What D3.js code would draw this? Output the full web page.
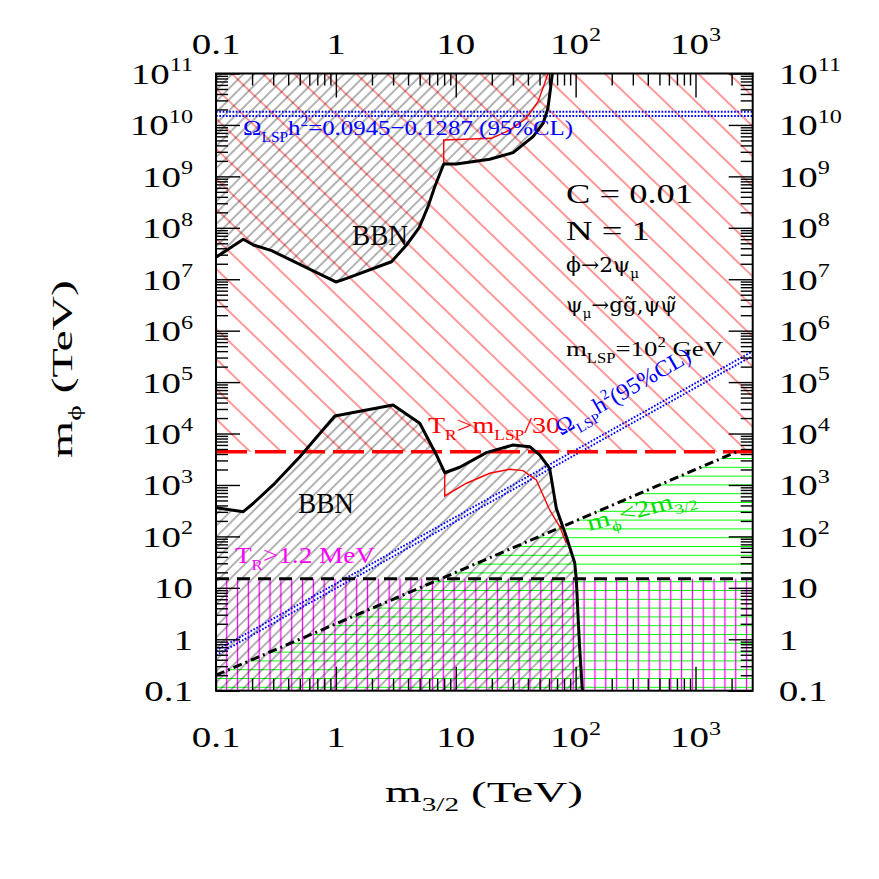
<!DOCTYPE html>
<html>
<head>
<meta charset="utf-8">
<style>
  body { margin: 0; background: #fff; }
  text { font-family: "Liberation Serif", serif; white-space: pre; }
  text.dv { font-family: "DejaVu Serif", serif; }
</style>
</head>
<body>
<div id="chart"></div>
<script src="https://cdn.jsdelivr.net/npm/d3@7"></script>
<script>

  // axis ranges and ticks (TeV)
  var xDomain = [0.1, 3000];
  var yDomain = [0.1, 1e11];
  var xMajor = [0.1, 1, 10, 100, 1000];
  var xTickLabels = ["0.1", "1", "10", "10^2", "10^3"];
  var yMajor = [0.1, 1, 10, 1e2, 1e3, 1e4, 1e5, 1e6, 1e7, 1e8, 1e9, 1e10, 1e11];
  var yTickLabels = ["0.1", "1", "10", "10^2", "10^3", "10^4", "10^5", "10^6", "10^7", "10^8", "10^9", "10^10", "10^11"];

  // upper BBN boundary (m3/2, mphi)
  var bbnUpX = [0.1, 0.169, 0.205, 0.291, 1.0, 1.23, 2.91, 3.88, 4.94, 5.87, 6.68, 7.94, 10.1, 19.2, 30.1, 44.1, 53.5, 58.7, 61.5, 64];
  var bbnUpY = [2.67e7, 5.98e7, 4.63e7, 3.59e7, 8.85e6, 1.04e7, 2.19e7, 4.63e7, 1.0e8, 2.58e8, 6.3e8, 1.74e9, 1.74e9, 2.15e9, 2.89e9, 5.92e9, 1.07e10, 2.09e10, 4.79e10, 1e11];
  // thin red line, upper part
  var redUpX = [7.94, 7.94, 19.9, 28.2, 38.8, 48.5, 55.2, 58.7];
  var redUpY = [1.74e9, 5.1e9, 5.5e9, 7.94e9, 1.35e10, 2.82e10, 6.46e10, 1e11];

  // lower BBN boundary
  var bbnLowX = [0.1, 0.169, 0.205, 0.3, 0.501, 0.98, 3.0, 5.01, 6.9, 8.09, 10.8, 18.0, 30.0, 41.4, 50.1, 60.7, 69.0, 83.7, 98.2, 101.4, 104.5, 107.9, 113.8];
  var bbnLowY = [361, 302, 441, 1000, 3550, 2.19e4, 3.59e4, 1.58e4, 3830, 1730, 2210, 4250, 5980, 5550, 3830, 2110, 352, 98.6, 30.8, 14.2, 3.2, 0.72, 0.1];
  // thin red line, lower part
  var redLowX = [8.09, 8.09, 12.3, 19.2, 28.2, 36.4, 47.0, 60.7, 73.6, 83.7];
  var redLowY = [1730, 611, 1080, 1690, 2020, 1900, 1250, 327, 155, 73.5];

  // Omega_LSP h^2 band (horizontal) and diagonal pair
  var omegaBand = [1.81e10, 1.49e10];
  var omegaX = [0.1, 3000];
  var omegaHiY = [0.603, 3.98e5];
  var omegaLoY = [0.49, 3.24e5];

  // m_phi = 2 m3/2 line, T_R limits
  var twoX = [0.1, 2200];
  var twoY = [0.2, 4400];
  var greenX = [0.1, 2200, 3000];
  var greenY = [0.2, 4400, 4400];
  var trLSP = 4400;   // T_R > m_LSP/30
  var trBBN = 15;     // T_R > 1.2 MeV

  var margin = {top: 73.5, left: 216},
      width = 536.7,
      height = 617.2;

  var svg = d3.select("#chart").append("svg")
      .attr("width", 879)
      .attr("height", 879);

  var defs = svg.append("defs");
  defs.append("clipPath").attr("id", "plotclip")
    .append("rect").attr("width", width).attr("height", height);

  // hatch patterns
  function hatch(id, color, gap, angle, sw, offset) {
    var p = defs.append("pattern")
        .attr("id", id)
        .attr("patternUnits", "userSpaceOnUse")
        .attr("x", offset || 0).attr("y", offset || 0)
        .attr("width", gap).attr("height", gap)
        .attr("patternTransform", "rotate(" + angle + ")");
    p.append("line")
        .attr("x1", gap / 2).attr("x2", gap / 2)
        .attr("y1", -1).attr("y2", gap + 1)
        .attr("stroke", color)
        .attr("stroke-width", sw);
  }
  hatch("hRed", "#ff0000", 21.6, -46, 0.8, 0);
  hatch("hBlack", "#000", 7.9, 45, 0.6, 0);
  hatch("hMag", "#ff00ff", 10.83, 0, 1.3, 5.3);
  hatch("hGreen", "#00ff00", 8.8, 90, 1.0, 2.2);

  var g = svg.append("g")
      .attr("transform", "translate(" + margin.left + "," + margin.top + ")");

  var x = d3.scaleLog().domain(xDomain).range([0, width]);
  var y = d3.scaleLog().domain(yDomain).range([height, 0]);

  var plot = g.append("g").attr("clip-path", "url(#plotclip)");

  var line = d3.line()
      .x(function(d) { return x(d[0]); })
      .y(function(d) { return y(d[1]); });

  // shaded regions
  plot.append("path")
      .datum(xDomain)
      .attr("fill", "url(#hRed)")
      .attr("d", d3.area()
        .x(function(d) { return x(d); })
        .y0(y(yDomain[1]))
        .y1(y(trLSP)));

  plot.append("path")
      .datum(d3.zip(greenX, greenY))
      .attr("fill", "url(#hGreen)")
      .attr("d", d3.area()
        .x(function(d) { return x(d[0]); })
        .y0(y(yDomain[0]))
        .y1(function(d) { return y(d[1]); }));

  plot.append("path")
      .datum(xDomain)
      .attr("fill", "url(#hMag)")
      .attr("d", d3.area()
        .x(function(d) { return x(d); })
        .y0(y(yDomain[0]))
        .y1(y(trBBN)));

  plot.append("path")
      .datum(d3.zip(bbnUpX, bbnUpY))
      .attr("fill", "url(#hBlack)")
      .attr("d", d3.area()
        .x(function(d) { return x(d[0]); })
        .y0(y(yDomain[1]))
        .y1(function(d) { return y(d[1]); }));

  plot.append("path")
      .datum(d3.zip(bbnLowX, bbnLowY))
      .attr("fill", "url(#hBlack)")
      .attr("d", d3.area()
        .x(function(d) { return x(d[0]); })
        .y0(y(yDomain[0]))
        .y1(function(d) { return y(d[1]); }));

  // Omega band lines
  var dotted = function(sel) {
    sel.attr("fill", "none").attr("stroke", "#0000ff")
       .attr("stroke-width", 1.9).attr("stroke-dasharray", "1.7,1.6");
  };
  omegaBand.forEach(function(v) {
    plot.append("path")
        .datum(xDomain.map(function(d) { return [d, v]; }))
        .call(dotted)
        .attr("d", line);
  });
  [omegaHiY, omegaLoY].forEach(function(ys) {
    plot.append("path")
        .datum(d3.zip(omegaX, ys))
        .call(dotted)
        .attr("d", line);
  });

  // T_R limits
  plot.append("path")
      .datum(xDomain.map(function(d) { return [d, trLSP]; }))
      .attr("fill", "none").attr("stroke", "#ff0000")
      .attr("stroke-width", 3.5).attr("stroke-dasharray", "31,8")
      .attr("d", line);
  plot.append("path")
      .datum(xDomain.map(function(d) { return [d, trBBN]; }))
      .attr("fill", "none").attr("stroke", "#000")
      .attr("stroke-width", 3).attr("stroke-dasharray", "13,8")
      .attr("d", line);

  // m_phi < 2 m3/2
  plot.append("path")
      .datum(d3.zip(twoX, twoY))
      .attr("fill", "none").attr("stroke", "#000")
      .attr("stroke-width", 3).attr("stroke-dasharray", "9,4,2,4")
      .attr("d", line);

  // thin red lines
  [[redUpX, redUpY], [redLowX, redLowY]].forEach(function(s) {
    plot.append("path")
        .datum(d3.zip(s[0], s[1]))
        .attr("fill", "none").attr("stroke", "#ff0000")
        .attr("stroke-width", 1.4)
        .attr("d", line);
  });

  // BBN boundaries
  [[bbnUpX, bbnUpY], [bbnLowX, bbnLowY]].forEach(function(s) {
    plot.append("path")
        .datum(d3.zip(s[0], s[1]))
        .attr("fill", "none").attr("stroke", "#000")
        .attr("stroke-width", 3).attr("stroke-linejoin", "round")
        .attr("d", line);
  });

  // ticks, all pointing inwards
  function minors(lo, hi) {
    var out = [];
    for (var d = Math.log10(lo); d < Math.log10(hi); d++) {
      for (var k = 2; k < 10; k++) {
        var v = k * Math.pow(10, d);
        if (v < hi) out.push(v);
      }
    }
    return out;
  }
  var xMinor = minors(xDomain[0], xDomain[1]);
  var yMinor = minors(yDomain[0], yDomain[1]);

  function ticks(axis, vals, size, tr) {
    var a = g.append("g")
        .attr("transform", tr)
        .call(axis.tickValues(vals).tickSize(-size).tickSizeOuter(0).tickFormat(""));
    a.select(".domain").remove();
    a.selectAll("line").attr("stroke-width", 1.4);
  }
  ticks(d3.axisBottom(x), xMajor, 24, "translate(0," + height + ")");
  ticks(d3.axisBottom(x), xMinor, 12, "translate(0," + height + ")");
  ticks(d3.axisTop(x), xMajor, 24, "translate(0,0)");
  ticks(d3.axisTop(x), xMinor, 12, "translate(0,0)");
  ticks(d3.axisLeft(y), yMajor, 24, "translate(0,0)");
  ticks(d3.axisLeft(y), yMinor, 12, "translate(0,0)");
  ticks(d3.axisRight(y), yMajor, 24, "translate(" + width + ",0)");
  ticks(d3.axisRight(y), yMinor, 12, "translate(" + width + ",0)");

  g.append("rect")
      .attr("width", width).attr("height", height)
      .attr("fill", "none").attr("stroke", "#000").attr("stroke-width", 2);

  // text with sub/superscripts: parts are strings or {t, sub|sup}
  function label(parts, o) {
    var tr = "translate(" + o.x + "," + o.y + ")";
    if (o.rot) tr += " rotate(" + o.rot + ")";
    if (o.sx) tr += " scale(" + o.sx + ",1)";
    var t = g.append("g").attr("transform", tr)
      .append("text")
        .attr("class", o.cls || null)
        .attr("font-size", o.size)
        .attr("fill", o.color || "#000")
        .attr("text-anchor", o.anchor || "start");
    if (o.len) t.attr("textLength", o.len).attr("lengthAdjust", "spacingAndGlyphs");
    var cur = 0;
    parts.forEach(function(p) {
      var s = typeof p === "string" ? {t: p} : p;
      var shift = s.sub ? o.size * 0.3 : s.sup ? -o.size * 0.42 : 0;
      t.append("tspan")
          .attr("font-size", s.sub || s.sup ? o.size * 0.62 : o.size)
          .attr("dy", shift - cur)
          .text(s.t);
      cur = shift;
    });
  }
  function powParts(s) {
    var i = s.indexOf("^");
    return i < 0 ? [s] : [s.slice(0, i), {t: s.slice(i + 1), sup: true}];
  }

  xMajor.forEach(function(v, i) {
    label(powParts(xTickLabels[i]), {x: x(v), y: height + 56.5, size: 30, anchor: "middle", sx: 1.3});
    label(powParts(xTickLabels[i]), {x: x(v), y: -19.5, size: 30, anchor: "middle", sx: 1.3});
  });
  yMajor.forEach(function(v, i) {
    label(powParts(yTickLabels[i]), {x: -23, y: y(v) + 10.5, size: 30, anchor: "end", sx: 1.3});
    label(powParts(yTickLabels[i]), {x: width + 26, y: y(v) + 10.5, size: 30, anchor: "start", sx: 1.3});
  });

  // axis titles
  label(["m", {t: "3/2", sub: true}, " (TeV)"], {x: 385 - margin.left, y: 802 - margin.top, size: 29, len: 198});
  label(["m", {t: "ϕ", sub: true}, " (TeV)"], {x: 72 - margin.left, y: 458 - margin.top, size: 29, rot: -90, len: 178});

  // annotations
  function at(px, py, o) { o.x = px - margin.left; o.y = py - margin.top; return o; }

  label(["C = 0.01"], at(566, 203, {size: 27, len: 127}));
  label(["N = 1"], at(566, 240, {size: 27, len: 84}));
  label(["ϕ→2ψ", {t: "μ", sub: true}], at(566, 272, {size: 21, len: 73, cls: "dv"}));
  label(["ψ", {t: "μ", sub: true}, "→gg̃,ψψ̃"], at(566, 312, {size: 21, len: 111, cls: "dv"}));
  label(["m", {t: "LSP", sub: true}, "=10", {t: "2", sup: true}, " GeV"], at(566, 356, {size: 22, len: 157}));

  label(["BBN"], at(352, 245, {size: 29, len: 56}));
  label(["BBN"], at(298, 513, {size: 29, len: 56}));

  label(["T", {t: "R", sub: true}, ">1.2 MeV"], at(235, 563, {size: 23, len: 140, color: "#ff00ff"}));
  label(["T", {t: "R", sub: true}, ">m", {t: "LSP", sub: true}, "/30"], at(428, 433, {size: 23, len: 132, color: "#ff0000"}));
  label(["Ω", {t: "LSP", sub: true}, "h", {t: "2", sup: true}, "=0.0945−0.1287 (95%CL)"], at(243, 135, {size: 22, len: 330, color: "#0000ff"}));
  label(["Ω", {t: "LSP", sub: true}, "h", {t: "2", sup: true}, "(95%CL)"], at(561, 436, {size: 23, len: 152, rot: -30, color: "#0000ff"}));
  label(["m", {t: "ϕ", sub: true}, "<2m", {t: "3/2", sub: true}], at(589, 531, {size: 23, len: 112, rot: -15, color: "#00dd00"}));

</script>
</body>
</html>
